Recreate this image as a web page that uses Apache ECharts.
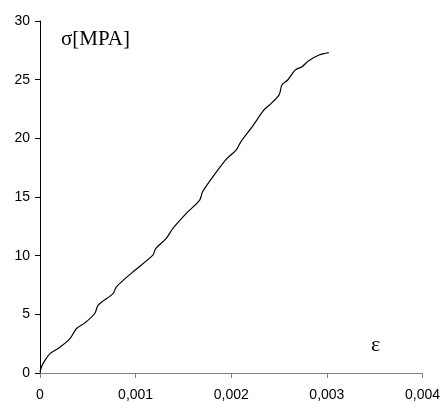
<!DOCTYPE html>
<html><head><meta charset="utf-8">
<script src="https://cdn.jsdelivr.net/npm/echarts@6/dist/echarts.min.js"></script>
<style>html,body{margin:0;padding:0;background:#fff}#c{width:443px;height:403px}</style>
</head><body><div id="c"></div>
<script>
const strain = [0, 0.000018, 0.000052, 0.000104, 0.000208, 0.000313, 0.000382, 0.000469, 0.000573, 0.000608, 0.000764, 0.000799, 0.000972, 0.00118, 0.00121, 0.00132, 0.00139, 0.00153, 0.00167, 0.0017, 0.00177, 0.00194, 0.00205, 0.0021, 0.00222, 0.00234, 0.0024, 0.0025, 0.00253, 0.00259, 0.00267, 0.00274, 0.00281, 0.00292, 0.00302];
const stress = [0.1, 0.57, 1.08, 1.65, 2.2, 2.93, 3.79, 4.27, 5.07, 5.78, 6.77, 7.34, 8.62, 10.04, 10.61, 11.47, 12.32, 13.6, 14.74, 15.44, 16.3, 18.15, 19.0, 19.7, 21.0, 22.4, 22.84, 23.7, 24.55, 24.97, 25.83, 26.1, 26.62, 27.1, 27.3];
const yLabel = 'σ[MPA]';
const xLabel = 'ε';

const chart = echarts.init(document.getElementById('c'), null, {renderer: 'canvas'});
chart.setOption({
  animation: false,
  backgroundColor: '#fff',
  grid: {left: 40, right: 19, top: 21, bottom: 30, containLabel: false},
  xAxis: {
    type: 'value', min: 0, max: 0.004, interval: 0.001,
    axisLine: {show: true, lineStyle: {color: '#808080', width: 1}},
    axisTick: {show: true, length: 5, inside: false, lineStyle: {color: '#808080'}},
    splitLine: {show: false},
    axisLabel: {color: '#000', fontFamily: 'Liberation Sans', fontSize: 14, margin: 15,
      formatter: v => v === 0 ? '0' : v.toFixed(3).replace('.', ',')}
  },
  yAxis: {
    type: 'value', min: 0, max: 30, interval: 5,
    axisLine: {show: true, lineStyle: {color: '#000', width: 1}},
    axisTick: {show: true, length: 5, lineStyle: {color: '#000'}},
    splitLine: {show: false},
    axisLabel: {color: '#000', fontFamily: 'Liberation Sans', fontSize: 14, margin: 10}
  },
  graphic: [
    {type: 'text', left: 61, top: 29, style: {text: yLabel, font: '21px "Liberation Serif"', fill: '#000'}},
    {type: 'text', left: 371, top: 334, style: {text: xLabel, font: '22px "Liberation Serif"', fill: '#000'}}
  ],
  series: [{
    type: 'line', showSymbol: false, smooth: 0.3,
    lineStyle: {color: '#000', width: 1.2},
    data: strain.map((x, i) => [x, stress[i]])
  }]
});
</script></body></html>
